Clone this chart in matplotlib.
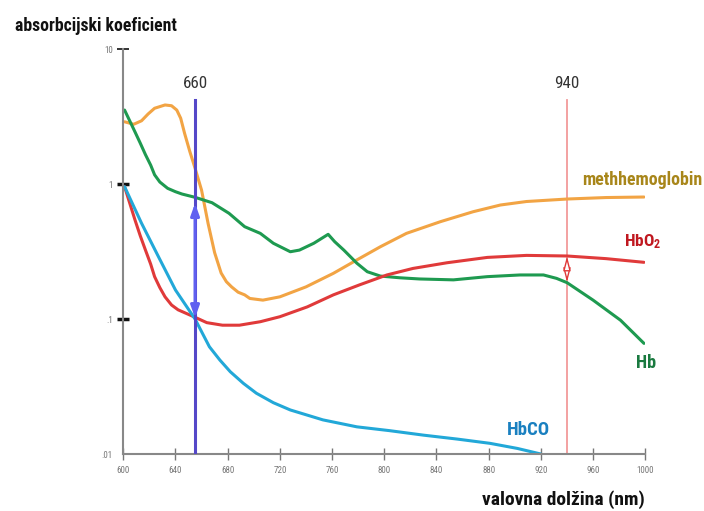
import numpy as np
import matplotlib
matplotlib.use("Agg")
import matplotlib.pyplot as plt
import matplotlib.font_manager as fm
from matplotlib.ticker import NullLocator

# ozka pisava, če je na voljo
fonts = fm.fontManager.ttflist
names = set(f.name for f in fonts)
nar_family, nar_stretch = 'Liberation Sans', 'normal'
for cand in ['Liberation Sans Narrow', 'Roboto Condensed', 'Open Sans Condensed',
             'Noto Sans Condensed', 'DejaVu Sans Condensed']:
    if cand in names:
        nar_family, nar_stretch = cand, 'normal'
        break
else:
    for fam in ['Roboto', 'Noto Sans', 'Open Sans', 'DejaVu Sans']:
        if any(f.name == fam and str(f.stretch) in ('condensed', 'semi-condensed', 'extra-condensed')
               for f in fonts):
            nar_family, nar_stretch = fam, 'condensed'
            break

plt.rcParams['font.family'] = [nar_family, 'Liberation Sans', 'DejaVu Sans']
plt.rcParams['font.stretch'] = nar_stretch
plt.rcParams['mathtext.default'] = 'regular'

# valovna dolžina (nm) in absorbcijski koeficient, odčitano s slike
met_nm = [601, 608, 614, 619, 624, 632, 637, 641, 644, 647, 651, 655, 660, 665, 670, 675, 679,
          683, 688, 693, 697, 707, 720, 740, 761, 779, 797, 817, 843, 868, 889, 909, 940, 970, 999]
met_val = [2.89, 2.77, 2.94, 3.30, 3.64, 3.85, 3.80, 3.53, 3.07, 2.37, 1.74, 1.31, 0.90, 0.51,
           0.31, 0.219, 0.189, 0.173, 0.158, 0.151, 0.142, 0.138, 0.146, 0.173, 0.218, 0.274,
           0.343, 0.431, 0.526, 0.623, 0.699, 0.742, 0.774, 0.794, 0.801]

hb_nm = [601, 605, 609, 613, 617, 621, 624, 628, 634, 640, 645, 655, 668, 681, 693, 705,
         715, 728, 735, 746, 757, 762, 769, 779, 787, 797, 812, 827, 853, 879, 904, 922, 932,
         940, 960, 981, 999]
hb_val = [3.53, 2.93, 2.43, 2.01, 1.65, 1.38, 1.17, 1.035, 0.929, 0.877, 0.843, 0.797, 0.727,
          0.607, 0.483, 0.431, 0.364, 0.315, 0.324, 0.364, 0.424, 0.374, 0.324, 0.259, 0.224,
          0.208, 0.202, 0.198, 0.195, 0.206, 0.212, 0.212, 0.200, 0.186, 0.138, 0.098, 0.066]

hbo2_nm = [601, 605, 609, 613, 617, 621, 624, 628, 632, 637, 642, 655, 664, 676, 689, 705,
           720, 741, 761, 781, 802, 822, 848, 879, 909, 940, 970, 999]
hbo2_val = [0.955, 0.719, 0.541, 0.414, 0.324, 0.255, 0.206, 0.171, 0.146, 0.127, 0.117, 0.103,
            0.094, 0.090, 0.090, 0.0955, 0.104, 0.123, 0.151, 0.179, 0.212, 0.237, 0.261, 0.286,
            0.296, 0.293, 0.280, 0.263]

hbco_nm = [601, 614, 627, 640, 655, 660, 666, 674, 682, 692, 702, 715, 728, 753, 779, 804, 830,
           856, 881, 902, 920]
hbco_val = [0.955, 0.512, 0.289, 0.164, 0.100, 0.0806, 0.0623, 0.0497, 0.0407, 0.0334, 0.0282,
            0.0240, 0.0212, 0.0179, 0.0159, 0.0149, 0.0138, 0.0129, 0.0120, 0.0110, 0.0100]

red_nm = 655
ir_nm = 940

fig = plt.figure(figsize=(7.04, 5.11), dpi=100)
ax = fig.add_axes([0.1751, 0.1115, 0.7415, 0.7926])

ax.plot(met_nm, met_val, color='#f2a444', lw=2.2, solid_capstyle='round', solid_joinstyle='round')
ax.plot(hb_nm, hb_val, color='#1e9a50', lw=2.2, solid_capstyle='round', solid_joinstyle='round')
ax.plot(hbo2_nm, hbo2_val, color='#e03a3a', lw=2.2, solid_capstyle='round', solid_joinstyle='round')
ax.plot(hbco_nm, hbco_val, color='#22a8d8', lw=2.2, solid_capstyle='round', solid_joinstyle='round')

# navpični črti pri 660 in 940 nm
ax.plot([red_nm, red_nm], [4.2, 0.01], color='#5548c8', lw=2.2, zorder=5)
ax.plot([ir_nm, ir_nm], [4.2, 0.01], color='#f29a9a', lw=1.3, zorder=1)

ax.annotate('', xy=(red_nm, 0.72), xytext=(red_nm, 0.102),
            arrowprops=dict(arrowstyle='<|-|>,head_length=0.7,head_width=0.25',
                            color='#6060f0', lw=2.2, shrinkA=0, shrinkB=0), zorder=6)
ax.annotate('', xy=(ir_nm, 0.292), xytext=(ir_nm, 0.187),
            arrowprops=dict(arrowstyle='<|-|>,head_length=0.85,head_width=0.22',
                            ec='#e03a3a', fc='white', lw=1.0, shrinkA=0, shrinkB=0), zorder=6)

ax.set_yscale('log')
ax.set_xlim(600, 1000)
ax.set_ylim(0.01, 10)
ax.set_xticks(np.arange(600, 1001, 40))
ax.set_xticklabels([str(v) for v in range(600, 1001, 40)])
ax.set_yticks([0.01, 0.1, 1, 10])
ax.set_yticklabels(['.01', '.1', '1', '10'])
ax.yaxis.set_minor_locator(NullLocator())
ax.tick_params(axis='x', direction='inout', length=9, width=1.0, color='#777777',
               labelsize=6.5, labelcolor='#777777', pad=4)
ax.tick_params(axis='y', direction='inout', length=9, width=2.5, color='#111111',
               labelsize=6.5, labelcolor='#777777', pad=3)
yt = ax.yaxis.get_major_ticks()
yt[0].tick1line.set_visible(False)
yt[3].tick1line.set_color('#777777')
yt[3].tick1line.set_markeredgewidth(1.2)

for s in ['top', 'right']:
    ax.spines[s].set_visible(False)
for s in ['left', 'bottom']:
    ax.spines[s].set_color('#888888')
    ax.spines[s].set_linewidth(1.5)

texts = []
t = fig.text(15 / 704, 1 - 31 / 511, 'absorbcijski koeficient', fontsize=14, fontweight='bold',
             color='#111111', va='baseline', ha='left')
texts.append((t, 163))
t = fig.text(482 / 704, 1 - 505 / 511, 'valovna dolžina (nm)', fontsize=14, fontweight='bold',
             color='#111111', va='baseline', ha='left')
texts.append((t, 163))

t = ax.text(red_nm, 5.14, '660', fontsize=13, color='#333333', ha='center', va='baseline')
texts.append((t, 25))
t = ax.text(ir_nm, 5.14, '940', fontsize=13, color='#333333', ha='center', va='baseline')
texts.append((t, 25))

t = ax.text(951.5, 0.983, 'methhemoglobin', fontsize=13, fontweight='bold', color='#a8861a',
            ha='left', va='baseline', clip_on=False)
texts.append((t, 120))
t = ax.text(983.6, 0.343, r'HbO$_2$', fontsize=13, fontweight='bold', color='#c01820',
            ha='left', va='baseline', clip_on=False)
texts.append((t, 37))
t = ax.text(992.7, 0.0434, 'Hb', fontsize=13, fontweight='bold', color='#1a7a40',
            ha='left', va='baseline', clip_on=False)
texts.append((t, 20))
t = ax.text(893.8, 0.0138, 'HbCO', fontsize=13, fontweight='bold', color='#1a80c0',
            ha='left', va='baseline', clip_on=False)
texts.append((t, 43))

# velikost pisave prilagodi širini napisov na sliki
renderer = fig.canvas.get_renderer()
for t, w_px in texts:
    w = t.get_window_extent(renderer=renderer).width
    t.set_fontsize(t.get_fontsize() * w_px / w)

fig.savefig('out.png', dpi=100)
